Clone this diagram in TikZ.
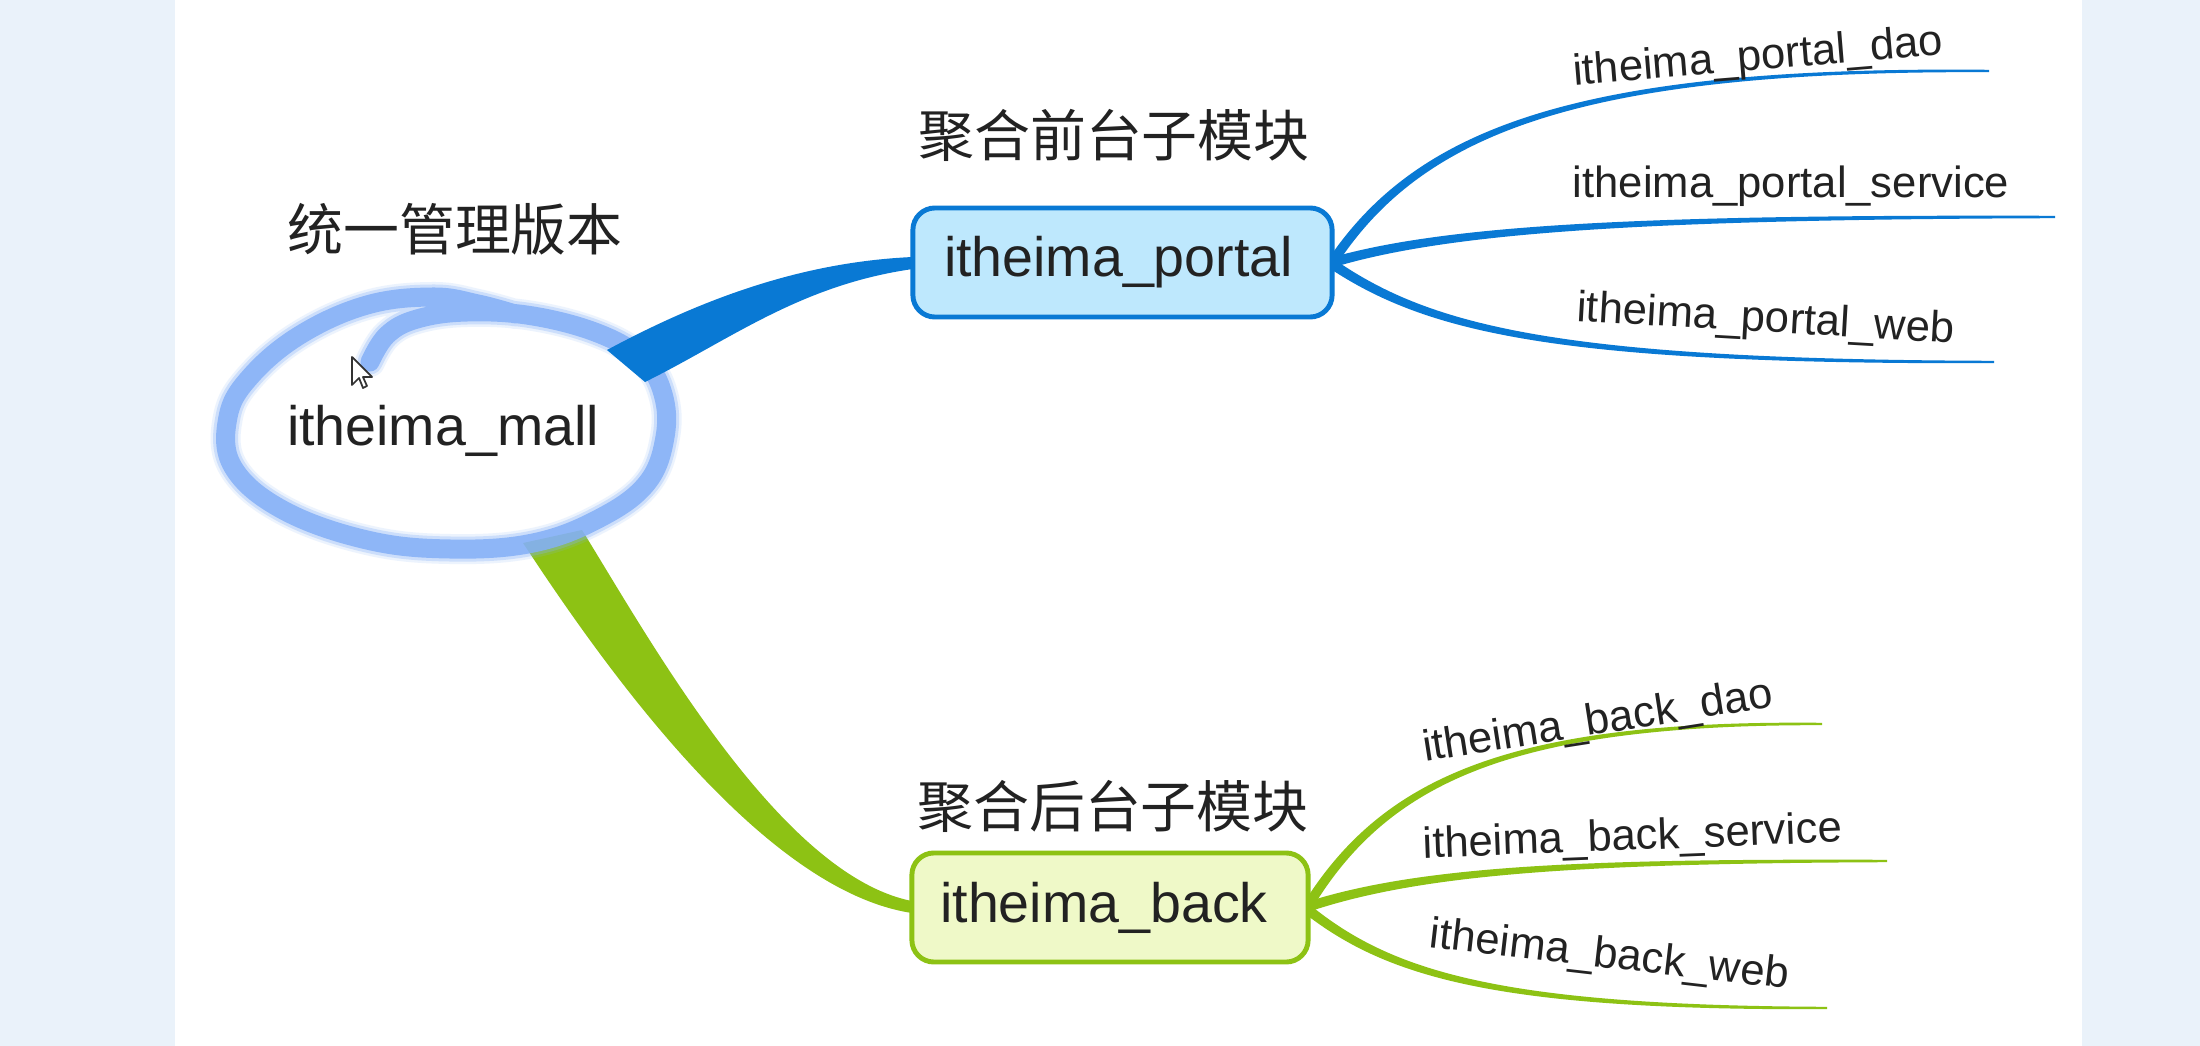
\documentclass[tikz,border=0pt]{standalone}
\usepackage{fontspec}
\setmainfont{Liberation Sans}
\newfontfamily\cjk{Noto Sans CJK SC}
\usetikzlibrary{shapes.geometric,calc}
\definecolor{stripbg}{RGB}{234,242,250}
\definecolor{pblue}{RGB}{9,121,212}
\definecolor{pfill}{RGB}{190,232,253}
\definecolor{bgreen}{RGB}{141,194,20}
\definecolor{bfill}{RGB}{239,249,200}
\definecolor{ringc}{RGB}{132,176,247}
\definecolor{txt}{RGB}{34,34,34}
\tikzset{
  modbox/.style={rounded corners=0.22cm, line width=1.4pt, inner sep=0pt, outer sep=0pt,
    minimum height=1.09cm, text=txt, font=\fontsize{15.8pt}{19pt}\selectfont},
  leaf/.style={anchor=base, inner sep=0pt, text=txt, font=\fontsize{12.4pt}{15pt}\selectfont},
  cjklabel/.style={inner sep=0pt, text=txt, font=\cjk\fontsize{15.9pt}{19pt}\selectfont},
  ringpath/.style={ringc, line cap=round, line join=round},
}
\def\ringpts{(370,362) (387,335) (417,319) (467,312) (533,316) (600,334) (643,360) (663,394) (665,437) (647,483) (600,518) (533,543) (450,549) (367,540) (283,510) (233,467) (228,417) (250,377) (300,335) (367,305) (433,297) (478,304) (515,314)}
\begin{document}
\begin{tikzpicture}[x=0.01cm,y=-0.01cm]
\useasboundingbox (0,0) rectangle (2200,1046);
% background strips
\fill[white] (0,0) rectangle (2200,1046);
\fill[stripbg] (0,0) rectangle (175,1046);
\fill[stripbg] (2082,0) rectangle (2200,1046);

% central node
\node[ellipse, minimum width=4.36cm, minimum height=2.3cm, inner sep=0pt, outer sep=0pt,
      text=txt, font=\fontsize{15.8pt}{19pt}\selectfont] (mall) at (443,431) {itheima\_mall};

% boxes (positions)
\path (1122.5,262.5) node[modbox, minimum width=4.19cm] (portal) {};
\path (1110,907.5) node[modbox, minimum width=3.96cm] (back) {};

% green connector (mall -> back)
\fill[bgreen] ($(mall)+(80,112)$) .. controls (600,660) and (760,890) .. ($(back.west)+(0,5.5)$)
   -- ($(back.west)+(0,-6.5)$) .. controls (780,875) and (650,640) .. ($(mall)+(139,99)$) -- cycle;

% hand-drawn ring
\draw[ringpath, line width=0.30cm, opacity=0.15] plot[smooth, tension=0.65] coordinates {\ringpts};
\draw[ringpath, line width=0.25cm, opacity=0.3] plot[smooth, tension=0.65] coordinates {\ringpts};
\draw[ringpath, line width=0.19cm, opacity=0.85] plot[smooth, tension=0.65] coordinates {\ringpts};

% blue connector (mall -> portal)
\fill[pblue] ($(mall)+(164,-81)$) .. controls (700,300) and (800,262) .. ($(portal.west)+(0,-5.5)$)
   -- ($(portal.west)+(0,6.5)$) .. controls (800,285) and (730,340) .. ($(mall)+(202,-49)$) -- cycle;

% mouse cursor
\draw[fill=white, draw=black!80, line width=0.5pt, line join=round, shift={(352,357)}]
  (0,0) -- (0,28) -- (7,21) -- (11,31) -- (15,29) -- (11,20) -- (20,20) -- cycle;

% free ends of branches
\coordinate (epd) at (1989,71);
\coordinate (eps) at (2055,217);
\coordinate (epw) at (1994,362);
\coordinate (ebd) at (1822,724);
\coordinate (ebs) at (1887,861);
\coordinate (ebw) at (1827,1008);

% portal branches
\fill[pblue] ($(portal.east)+(-4.15,-2.8)$) .. controls (1417.4,127) and (1579.4,65.6) .. ($(epd)+(0,-1.2)$)
  -- ($(epd)+(0,1.2)$) .. controls (1580.6,70.4) and (1422.6,133) .. ($(portal.east)+(4.15,2.8)$) -- cycle;
\fill[pblue] ($(portal.east)+(-1.35,-4.8)$) .. controls (1449.4,224) and (1650,214.5) .. ($(eps)+(0,-1.2)$)
  -- ($(eps)+(0,1.2)$) .. controls (1650,219.5) and (1450.6,232) .. ($(portal.east)+(1.35,4.8)$) -- cycle;
\fill[pblue] ($(portal.east)+(2.8,-2.65)$) .. controls (1431.7,326.4) and (1560.25,359.5) .. ($(epw)+(0,-1.2)$)
  -- ($(epw)+(0,1.2)$) .. controls (1559.75,364.5) and (1428.3,333.6) .. ($(portal.east)+(-2.8,5.65)$) -- cycle;

% back branches
\fill[bgreen] ($(back.east)+(-5.25,-3.1)$) .. controls (1382.2,777.2) and (1509.5,719.55) .. ($(ebd)+(0,-1.2)$)
  -- ($(ebd)+(0,1.2)$) .. controls (1510.5,724.45) and (1387.8,782.8) .. ($(back.east)+(3.25,2.1)$) -- cycle;
\fill[bgreen] ($(back.east)+(-2.55,-5.25)$) .. controls (1419.4,866) and (1580,858.5) .. ($(ebs)+(0,-1.2)$)
  -- ($(ebs)+(0,1.2)$) .. controls (1580,863.5) and (1420.6,874) .. ($(back.east)+(0.55,4.25)$) -- cycle;
\fill[bgreen] ($(back.east)+(2.1,-2.4)$) .. controls (1392,971.6) and (1500.2,1005.5) .. ($(ebw)+(0,-1.2)$)
  -- ($(ebw)+(0,1.2)$) .. controls (1499.8,1010.5) and (1388,978.4) .. ($(back.east)+(-4.1,5.4)$) -- cycle;

% boxes drawn on top
\node[modbox, draw=pblue, fill=pfill, minimum width=4.19cm] at (portal) {\hspace*{-0.08cm}itheima\_portal};
\node[modbox, draw=bgreen, fill=bfill, minimum width=3.96cm] at (back) {\hspace*{-0.12cm}itheima\_back};

% labels
\node[cjklabel] (lblmall) at (455,229) {统一管理版本};
\node[cjklabel] (lblportal) at (1114,135) {聚合前台子模块};
\node[cjklabel] (lblback) at (1113,806) {聚合后台子模块};

% leaf texts
\node[leaf, rotate=4.7] (pdao) at (1759,70) {itheima\_portal\_dao};
\node[leaf] (pser) at (1791,198) {itheima\_portal\_service};
\node[leaf, rotate=-3.3] (pweb) at (1765,332) {itheima\_portal\_web};
\node[leaf, rotate=8.9] (bdao) at (1600,734) {itheima\_back\_dao};
\node[leaf, rotate=2.2] (bser) at (1633,850) {itheima\_back\_service};
\node[leaf, rotate=-6.6] (bweb) at (1608,968) {itheima\_back\_web};
\end{tikzpicture}
\end{document}
